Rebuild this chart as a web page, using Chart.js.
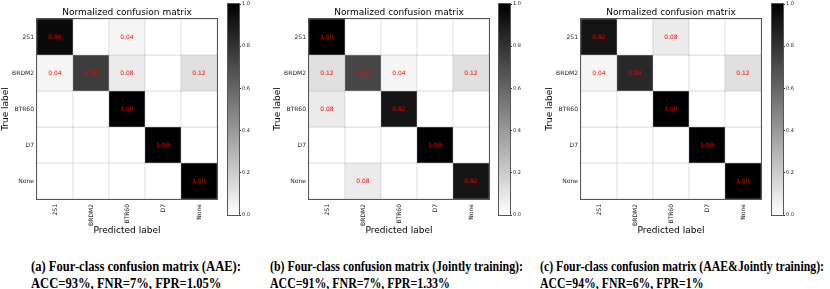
<!DOCTYPE html>
<html>
<head>
<meta charset="utf-8">
<script src="https://cdn.jsdelivr.net/npm/chart.js@4.4.0/dist/chart.umd.min.js"></script>
<style>
  body { margin: 0; background: #fff; width: 830px; height: 289px; position: relative; overflow: hidden; }
  canvas { position: absolute; top: 0; }
  .cap {
    position: absolute; top: 258px; white-space: nowrap; transform-origin: 0 0;
    font-family: "Liberation Serif", serif; font-weight: bold; font-size: 15px; line-height: 17px; color: #000;
  }
</style>
</head>
<body>
<canvas id="cmA" width="225" height="236" style="left:0px"></canvas>
<canvas id="cbA" width="30" height="219" style="left:225px"></canvas>
<canvas id="cmB" width="225" height="236" style="left:272px"></canvas>
<canvas id="cbB" width="30" height="219" style="left:496px"></canvas>
<canvas id="cmC" width="225" height="236" style="left:544px"></canvas>
<canvas id="cbC" width="30" height="219" style="left:769px"></canvas>

<div class="cap" id="capA" style="left:31px" data-w="210"></div>
<div class="cap" id="capB" style="left:270px" data-w="253"></div>
<div class="cap" id="capC" style="left:540px" data-w="284"></div>

<script>
// Three normalized confusion matrices (rows = true label, cols = predicted).
const CLASSES = ['2S1', 'BRDM2', 'BTR60', 'D7', 'None'];

const MATRIX_AAE = [
  [0.96, 0, 0.04, 0, 0],
  [0.04, 0.76, 0.08, 0, 0.12],
  [0, 0, 1.00, 0, 0],
  [0, 0, 0, 1.00, 0],
  [0, 0, 0, 0, 1.00],
];

const MATRIX_JOINT = [
  [1.00, 0, 0, 0, 0],
  [0.12, 0.72, 0.04, 0, 0.12],
  [0.08, 0, 0.92, 0, 0],
  [0, 0, 0, 1.00, 0],
  [0, 0.08, 0, 0, 0.92],
];

const MATRIX_AAE_JOINT = [
  [0.92, 0, 0.08, 0, 0],
  [0.04, 0.84, 0, 0, 0.12],
  [0, 0, 1.00, 0, 0],
  [0, 0, 0, 1.00, 0],
  [0, 0, 0, 0, 1.00],
];

const COLORBAR_TICKS = [0, 0.2, 0.4, 0.6, 0.8, 1.0];

const CAPTION_TITLES = [
  '(a) Four-class confusion matrix (AAE):',
  '(b) Four-class confusion matrix (Jointly training):',
  '(c) Four-class confusion matrix (AAE&Jointly training):',
];
const CAPTION_METRICS = [
  'ACC=93%, FNR=7%, FPR=1.05%',
  'ACC=91%, FNR=7%, FPR=1.33%',
  'ACC=94%, FNR=6%, FPR=1%',
];

Chart.defaults.font.family = '"DejaVu Sans", sans-serif';
Chart.defaults.color = '#000';

// reversed grey map: 0 -> white, 1 -> black
function greyFor(v) {
  const g = Math.round(255 * (1 - v));
  return `rgb(${g},${g},${g})`;
}

// spine around the plot area
const framePlugin = {
  id: 'frame',
  afterDatasetsDraw(chart, args, opts) {
    const { left, top, right, bottom } = chart.chartArea;
    const ctx = chart.ctx;
    ctx.save();
    ctx.strokeStyle = opts.color || '#505050';
    ctx.lineWidth = 1;
    ctx.strokeRect(left - 0.5, top - 0.5, right - left + 1, bottom - top + 1);
    ctx.restore();
  },
};

// red value text in each non-zero cell
const cellLabels = {
  id: 'cellLabels',
  afterDatasetsDraw(chart) {
    const ctx = chart.ctx;
    ctx.save();
    ctx.font = '6px "DejaVu Sans"';
    ctx.fillStyle = '#ff0000';
    ctx.textAlign = 'center';
    ctx.textBaseline = 'middle';
    chart.data.datasets.forEach((ds, i) => {
      chart.getDatasetMeta(i).data.forEach((bar, j) => {
        const v = ds.values[j];
        if (v > 0) {
          const c = bar.getCenterPoint();
          ctx.fillText(v.toFixed(2), c.x, c.y + 0.5);
        }
      });
    });
    ctx.restore();
  },
};

function buildMatrix(canvasId, matrix) {
  // one floating-bar dataset per true-label row
  const datasets = matrix.map((row, r) => ({
    label: CLASSES[r],
    data: CLASSES.map(() => [r, r + 1]),
    values: row,
    backgroundColor: row.map(greyFor),
  }));

  return new Chart(document.getElementById(canvasId), {
    type: 'bar',
    data: { labels: CLASSES, datasets },
    plugins: [cellLabels, framePlugin],
    options: {
      responsive: false,
      animation: false,
      devicePixelRatio: 1,
      layout: { padding: { left: 0, right: 8, top: 0, bottom: 0 } },
      datasets: {
        bar: {
          grouped: false,
          barPercentage: 1,
          categoryPercentage: 1,
          borderWidth: 0.5,
          borderColor: '#a8a8a8',
          borderSkipped: false,
        },
      },
      plugins: {
        legend: { display: false },
        tooltip: { enabled: false },
        frame: { color: '#555' },
        title: {
          display: true,
          fullSize: false,
          text: 'Normalized confusion matrix',
          color: '#000',
          font: { size: 9, weight: 'normal' },
          padding: { top: 7.6, bottom: 0.6 },
        },
      },
      scales: {
        x: {
          grid: { display: false, drawTicks: false },
          border: { display: false },
          ticks: { font: { size: 6 }, minRotation: 90, maxRotation: 90, padding: 5, autoSkip: false, color: '#222' },
          title: { display: true, text: 'Predicted label', font: { size: 9 }, padding: 0 },
          afterFit(s) { s.height = 37; },
        },
        y: {
          min: 0,
          max: 5,
          reverse: true,
          grid: { display: false, drawTicks: false },
          border: { display: false },
          afterBuildTicks(s) { s.ticks = CLASSES.map((c, i) => ({ value: i + 0.5 })); },
          ticks: { font: { size: 6 }, padding: 3, color: '#222', callback: (v) => CLASSES[Math.floor(v)] },
          title: { display: true, text: 'True label', font: { size: 9 }, padding: 0 },
          afterFit(s) { s.width = 37; },
        },
      },
    },
  });
}

function buildColorbar(canvasId) {
  return new Chart(document.getElementById(canvasId), {
    type: 'bar',
    data: {
      labels: [''],
      datasets: [{
        data: [[0, 1]],
        barPercentage: 1,
        categoryPercentage: 1,
        borderWidth: 0,
        backgroundColor(ctx) {
          const a = ctx.chart.chartArea;
          if (!a) return '#888';
          const g = ctx.chart.ctx.createLinearGradient(0, a.bottom, 0, a.top);
          COLORBAR_TICKS.forEach((v) => g.addColorStop(v, greyFor(v)));
          return g;
        },
      }],
    },
    plugins: [framePlugin],
    options: {
      responsive: false,
      animation: false,
      devicePixelRatio: 1,
      layout: { padding: { left: 3, right: 0, top: 3.5, bottom: 3.5 } },
      plugins: { legend: { display: false }, tooltip: { enabled: false }, frame: { color: '#555' } },
      scales: {
        x: { display: false },
        y: {
          position: 'right',
          min: 0,
          max: 1,
          afterBuildTicks(s) { s.ticks = COLORBAR_TICKS.map((v) => ({ value: v })); },
          ticks: { font: { size: 5 }, padding: 1, color: '#222', callback: (v) => v.toFixed(1) },
          grid: { drawOnChartArea: false, drawTicks: true, tickLength: 2, color: '#333' },
          border: { display: false },
          afterFit(s) { s.width = 16; },
        },
      },
    },
  });
}

buildMatrix('cmA', MATRIX_AAE);
buildMatrix('cmB', MATRIX_JOINT);
buildMatrix('cmC', MATRIX_AAE_JOINT);
buildColorbar('cbA');
buildColorbar('cbB');
buildColorbar('cbC');

// captions, squeezed horizontally to the measured line width
['capA', 'capB', 'capC'].forEach((id, i) => {
  const el = document.getElementById(id);
  el.innerHTML = '';
  const l1 = document.createElement('span');
  l1.textContent = CAPTION_TITLES[i];
  const l2 = document.createElement('span');
  l2.textContent = CAPTION_METRICS[i];
  el.append(l1, document.createElement('br'), l2);
  const w = l1.getBoundingClientRect().width;
  el.style.transform = `scaleX(${Number(el.dataset.w) / w})`;
});
</script>
</body>
</html>
